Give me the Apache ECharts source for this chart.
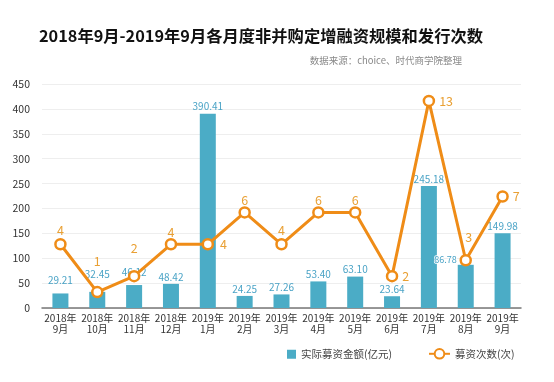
<!DOCTYPE html>
<html><head><meta charset="utf-8">
<script src="https://cdn.jsdelivr.net/npm/echarts@6/dist/echarts.min.js"></script>
<style>html,body{margin:0;padding:0;background:#fff}#c{width:554px;height:382px}</style>
</head><body><div id="c"></div>
<script>
const categories = ['2018年\n9月','2018年\n10月','2018年\n11月','2018年\n12月','2019年\n1月','2019年\n2月','2019年\n3月','2019年\n4月','2019年\n5月','2019年\n6月','2019年\n7月','2019年\n8月','2019年\n9月'];
const amounts = [29.21, 32.45, 46.12, 48.42, 390.41, 24.25, 27.26, 53.40, 63.10, 23.64, 245.18, 86.78, 149.98];
const counts = [4, 1, 2, 4, 4, 6, 4, 6, 6, 2, 13, 3, 7];
const barLabelOffsets = [-6, -11, -6, 0, 0, 0, 0, 0, 0, 0, 0, 0, 0];
const lineLabelPos = ['top','top','top','top','right','top','top','top','top','right','right','top','right'];
const lineLabelDx = [0, 0, 0, 0, 4, 0, 0, 0, 0, 2, 2, 3, 2];
const lineLabelDy = [0, -16, -13, 2, 0, 2, 0, 2, 2, 0, 0, -8, 0];

const BLUE = '#4BACC6';
const ORANGE = '#EF8C17';

const barData = amounts.map((v, i) => {
  const d = { value: v, label: { offset: [0, barLabelOffsets[i]] } };
  if (i === 11) d.label = { position: [-1, -5], align: 'right', verticalAlign: 'middle', fontSize: 9,
    textBorderColor: '#fff', textBorderWidth: 1.5 };
  return d;
});
const lineData = counts.map((v, i) => ({
  value: v,
  label: { position: lineLabelPos[i], offset: [lineLabelDx[i], lineLabelDy[i]] }
}));

const chart = echarts.init(document.getElementById('c'));
chart.setOption({
  animation: false,
  textStyle: { fontFamily: '"Noto Sans CJK SC", "Noto Sans", sans-serif' },
  title: [
    { text: '2018年9月-2019年9月各月度非并购定增融资规模和发行次数', left: 256, textAlign: 'center', top: 23,
      textStyle: { fontSize: 16.3, fontWeight: 'bold', color: '#111' } },
    { text: '数据来源：choice、时代商学院整理', right: 87, top: 51,
      textStyle: { fontSize: 9.5, fontWeight: 'normal', color: '#888' } }
  ],
  legend: [
    { data: [{ name: '实际募资金额(亿元)', icon: 'rect' }], left: 282, top: 344, itemWidth: 9, itemHeight: 9, itemGap: 6,
      textStyle: { fontSize: 10.5, color: '#444' } },
    { data: ['募资次数(次)'], left: 423, top: 343, itemWidth: 21, itemHeight: 12, itemGap: 6,
      textStyle: { fontSize: 10.5, color: '#444' } }
  ],
  grid: { left: 42, right: 33, top: 84, bottom: 74 },
  xAxis: {
    type: 'category', data: categories,
    axisLine: { lineStyle: { color: '#777', width: 1.5 } },
    axisTick: { show: false },
    axisLabel: { color: '#333', fontSize: 10, lineHeight: 11, margin: 5, interval: 0 }
  },
  yAxis: [
    { type: 'value', min: 0, max: 450, interval: 50,
      axisLine: { show: false }, axisTick: { show: false },
      axisLabel: { color: '#333', fontSize: 10.5, margin: 12 },
      splitLine: { lineStyle: { color: '#eeeeee' } } },
    { type: 'value', min: 0, max: 14.0625, show: false, splitLine: { show: false } }
  ],
  series: [
    { name: '实际募资金额(亿元)', type: 'bar', data: barData, barWidth: 16,
      itemStyle: { color: BLUE },
      label: { show: true, position: 'top', distance: 2, color: '#4AA3C6', fontSize: 10,
        formatter: p => p.value.toFixed(2) } },
    { name: '募资次数(次)', type: 'line', yAxisIndex: 1, data: lineData,
      symbol: 'circle', symbolSize: 10,
      lineStyle: { color: ORANGE, width: 3 },
      itemStyle: { color: '#fff', borderColor: ORANGE, borderWidth: 2.5 },
      label: { show: true, color: '#E9A034', fontSize: 12.5, distance: 2 },
      z: 3 }
  ]
});
</script></body></html>
